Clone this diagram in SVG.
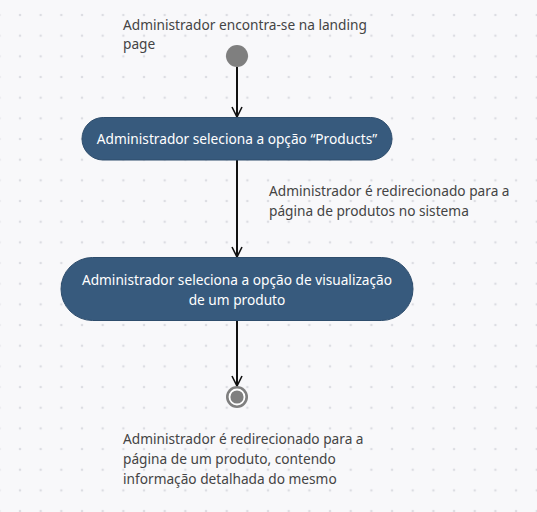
<svg xmlns="http://www.w3.org/2000/svg" width="537" height="512" viewBox="0 0 537 512">
<defs>
<pattern id="dots" x="20" y="15" width="20.67" height="20.67" patternUnits="userSpaceOnUse">
<circle cx="0" cy="0" r="1.3" fill="#dcdde2"/>
<circle cx="20.67" cy="0" r="1.3" fill="#dcdde2"/>
<circle cx="0" cy="20.67" r="1.3" fill="#dcdde2"/>
<circle cx="20.67" cy="20.67" r="1.3" fill="#dcdde2"/>
</pattern>
<marker id="arr" viewBox="0 0 12 12" refX="11" refY="6" markerWidth="12" markerHeight="12" markerUnits="userSpaceOnUse" orient="auto">
<path d="M1,1 L11,6 L1,11" fill="none" stroke="#111" stroke-width="1.6"/>
</marker>
<style>
.lbl{font-family:"Noto Sans","Open Sans",sans-serif;font-size:13.7px;fill:#444;}
.nt{font-family:"Noto Sans","Open Sans",sans-serif;font-size:13.7px;fill:#fff;text-anchor:middle;}
.node{fill:#375a7d;stroke:#2e4d6c;stroke-width:1;}
.edge{stroke:#111;stroke-width:2;fill:none;marker-end:url(#arr);}
</style>
</defs>
<rect width="537" height="512" fill="#f8f8fa"/>
<rect width="537" height="512" fill="url(#dots)"/>
<g id="connectors">
<line class="edge" x1="237" y1="67" x2="237" y2="117"/>
<line class="edge" x1="237" y1="160" x2="237" y2="257"/>
<line class="edge" x1="237" y1="321" x2="237" y2="386"/>
</g>
<g id="start">
<circle cx="237" cy="56" r="11" fill="#7f7f7f"/>
<text class="lbl" x="123" y="30">Administrador encontra-se na landing</text>
<text class="lbl" x="123" y="49">page</text>
</g>
<g id="node1">
<rect class="node" x="82" y="117.5" width="310" height="42.5" rx="21.25"/>
<text class="nt" x="237" y="144">Administrador seleciona a opção “Products”</text>
</g>
<g id="label2">
<text class="lbl" x="269" y="196">Administrador é redirecionado para a</text>
<text class="lbl" x="269" y="216">página de produtos no sistema</text>
</g>
<g id="node2">
<rect class="node" x="61" y="257.5" width="352" height="63" rx="31.5"/>
<text class="nt" x="237" y="285">Administrador seleciona a opção de visualização</text>
<text class="nt" x="237" y="305">de um produto</text>
</g>
<g id="end">
<circle cx="237" cy="397" r="11" fill="#7f7f7f"/>
<circle cx="237" cy="397" r="7.5" fill="none" stroke="#fff" stroke-width="1.8"/>
<text class="lbl" x="123" y="444">Administrador é redirecionado para a</text>
<text class="lbl" x="123" y="464">página de um produto, contendo</text>
<text class="lbl" x="123" y="484">informação detalhada do mesmo</text>
</g>
</svg>
